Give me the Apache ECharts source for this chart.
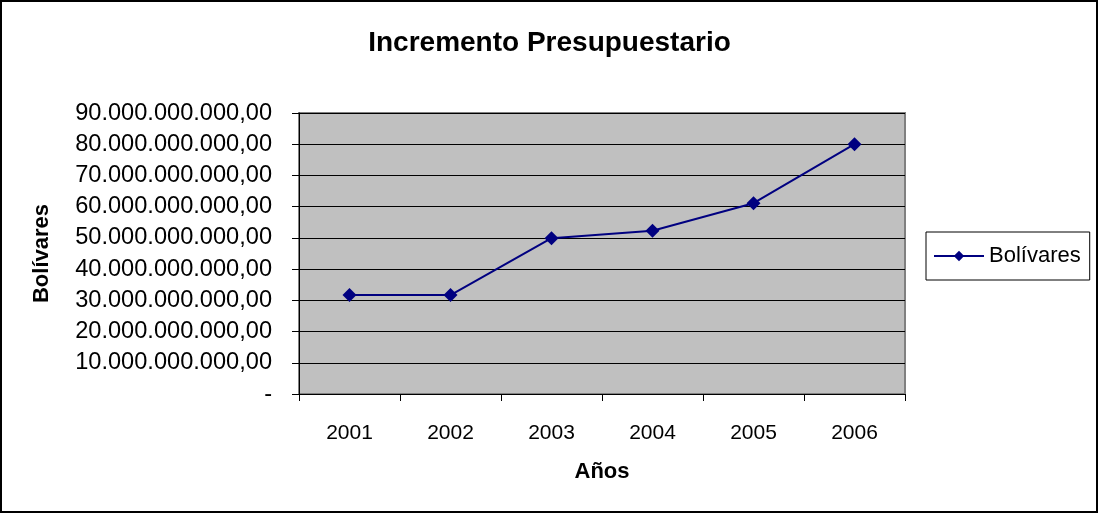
<!DOCTYPE html>
<html>
<head>
<meta charset="utf-8">
<script src="https://cdn.jsdelivr.net/npm/echarts@6/dist/echarts.min.js"></script>
<style>
html,body{margin:0;padding:0;background:#fff;}
#chart{width:1099px;height:514px;}
</style>
</head>
<body>
<div id="chart"></div>
<script>
var years = ['2001', '2002', '2003', '2004', '2005', '2006'];
var bolivares = [31700000000, 31700000000, 49900000000, 52300000000, 61100000000, 80000000000];
var seriesName = 'Bolívares';
var titleText = 'Incremento Presupuestario';
var yAxisName = 'Bolívares';
var xAxisName = 'Años';

function fmt(v) {
  if (v === 0) return '-';
  var s = Math.round(v).toString();
  var out = '';
  while (s.length > 3) {
    out = '.' + s.slice(-3) + out;
    s = s.slice(0, -3);
  }
  return s + out + ',00';
}

var chart = echarts.init(document.getElementById('chart'));
var font = 'Liberation Sans, Arial, sans-serif';
chart.setOption({
  animation: false,
  title: {
    text: titleText,
    left: 'center',
    top: 24,
    textStyle: { fontFamily: font, fontSize: 28, fontWeight: 'bold', color: '#000' }
  },
  graphic: [{
    type: 'rect',
    shape: { x: 1, y: 1, width: 1096, height: 511 },
    style: { fill: 'none', stroke: '#000', lineWidth: 2 },
    silent: true
  }],
  legend: {
    data: [seriesName],
    left: 926,
    top: 232,
    orient: 'vertical',
    borderColor: '#000',
    borderWidth: 1,
    borderRadius: 0,
    padding: [13, 9, 13, 7],
    itemWidth: 50,
    itemHeight: 13,
    textStyle: { fontFamily: font, fontSize: 22, color: '#000' }
  },
  grid: {
    left: 299, right: 194, top: 113, bottom: 120,
    show: true,
    backgroundColor: '#c0c0c0',
    borderColor: '#808080',
    borderWidth: 2
  },
  xAxis: {
    type: 'category',
    data: years,
    boundaryGap: true,
    name: xAxisName,
    nameLocation: 'middle',
    nameGap: 67,
    nameTextStyle: { fontFamily: font, fontSize: 22, fontWeight: 'bold', color: '#000' },
    axisLine: { lineStyle: { color: '#000', width: 1 } },
    axisTick: { show: true, length: 7, lineStyle: { color: '#000' } },
    axisLabel: { fontFamily: font, fontSize: 21, color: '#000', margin: 29 },
    splitLine: { show: false }
  },
  yAxis: {
    type: 'value',
    min: 0,
    max: 90000000000,
    interval: 10000000000,
    name: yAxisName,
    nameLocation: 'middle',
    nameGap: 246,
    nameTextStyle: { fontFamily: font, fontSize: 22, fontWeight: 'bold', color: '#000' },
    axisLine: { show: true, lineStyle: { color: '#000', width: 1 } },
    axisTick: { show: true, length: 7, lineStyle: { color: '#000' } },
    axisLabel: { fontFamily: font, fontSize: 23.6, color: '#000', margin: 27, formatter: fmt },
    splitLine: { show: true, lineStyle: { color: '#000', width: 1 } }
  },
  series: [{
    name: seriesName,
    type: 'line',
    data: bolivares,
    symbol: 'diamond',
    symbolSize: 14,
    itemStyle: { color: '#000080' },
    lineStyle: { color: '#000080', width: 2 }
  }]
});
</script>
</body>
</html>
